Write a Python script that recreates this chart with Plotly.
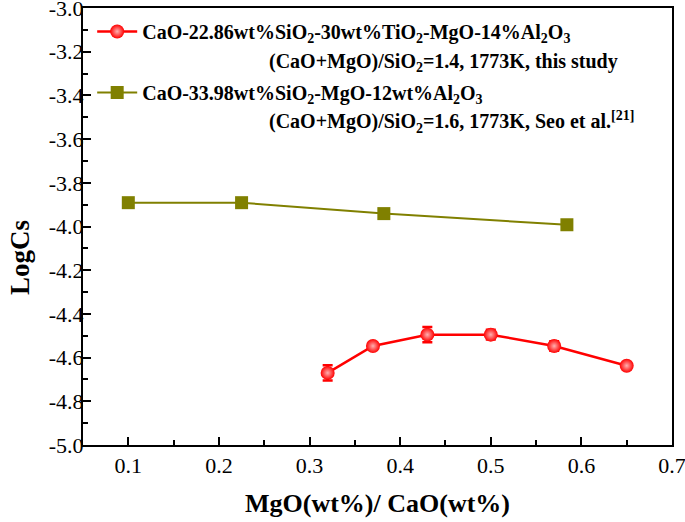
import plotly.graph_objects as go

red_x = [0.32, 0.37, 0.43, 0.50, 0.57, 0.65]
red_y = [-4.670, -4.547, -4.495, -4.495, -4.547, -4.637]
red_err = [0.035, 0.0, 0.035, 0.022, 0.022, 0.0]

olive_x = [0.10, 0.225, 0.382, 0.584]
olive_y = [-3.891, -3.891, -3.941, -3.992]

x_ticks = [0.1, 0.2, 0.3, 0.4, 0.5, 0.6, 0.7]
x_labels = ["0.1", "0.2", "0.3", "0.4", "0.5", "0.6", "0.7"]
y_ticks = [-5.0, -4.8, -4.6, -4.4, -4.2, -4.0, -3.8, -3.6, -3.4, -3.2, -3.0]
y_labels = ["-5.0", "-4.8", "-4.6", "-4.4", "-4.2", "-4.0", "-3.8", "-3.6", "-3.4", "-3.2", "-3.0"]

name_red = "CaO-22.86wt%SiO<sub>2</sub>-30wt%TiO<sub>2</sub>-MgO-14%Al<sub>2</sub>O<sub>3</sub>"
note_red = "(CaO+MgO)/SiO<sub>2</sub>=1.4, 1773K, this study"
name_olive = "CaO-33.98wt%SiO<sub>2</sub>-MgO-12wt%Al<sub>2</sub>O<sub>3</sub>"
note_olive = "(CaO+MgO)/SiO<sub>2</sub>=1.6, 1773K, Seo et al.<sup>[21]</sup>"

FONT = "Liberation Serif"

fig = go.Figure()
fig.add_trace(go.Scatter(
    x=red_x, y=red_y, mode="lines+markers", name=name_red, legendgroup="a",
    line=dict(color="#ff0000", width=2.5),
    marker=dict(color="#ff0000", size=14, symbol="circle",
                gradient=dict(type="radial", color="#ffb0b0"),
                line=dict(width=0)),
    error_y=dict(type="data", array=red_err, color="#ff0000", thickness=2.5, width=5, visible=True),
))
fig.add_trace(go.Scatter(
    x=olive_x, y=olive_y, mode="lines+markers", name=name_olive, legendgroup="b",
    line=dict(color="#808000", width=2),
    marker=dict(color="#808000", size=13, symbol="square", line=dict(width=0)),
))

axis_common = dict(
    showline=True, linecolor="black", linewidth=2, mirror=True,
    ticks="inside", ticklen=8, tickwidth=2, tickcolor="black",
    showgrid=False, zeroline=False, automargin=False,
    ticklabeloverflow="allow",
    tickfont=dict(family=FONT, size=22, color="black"),
)

fig.update_xaxes(range=[0.05, 0.7], tickvals=x_ticks, ticktext=x_labels,
                 minor=dict(dtick=0.05, ticks="inside", ticklen=5, tickwidth=2, tickcolor="black", tick0=0.05),
                 title=dict(text="<b>MgO(wt%)/ CaO(wt%)</b>", standoff=16,
                            font=dict(family=FONT, size=26, color="black")),
                 **axis_common)
fig.update_yaxes(range=[-5.0, -3.0], tickvals=y_ticks, ticktext=y_labels, ticklabelstandoff=-7,
                 minor=dict(dtick=0.1, ticks="inside", ticklen=5, tickwidth=2, tickcolor="black"),
                 **axis_common)

note_style = dict(xref="paper", yref="paper", xanchor="left", yanchor="middle", showarrow=False,
                  font=dict(family=FONT, size=20, color="black", weight="bold"))
fig.add_annotation(text=note_red, x=0.3124, y=0.8764, **note_style)
fig.add_annotation(text=note_olive, x=0.3124, y=0.7391, **note_style)
fig.add_annotation(text="<b>LogCs</b>", xref="paper", yref="paper", x=-0.107, y=0.43,
                   xanchor="center", yanchor="middle", textangle=-90, showarrow=False,
                   font=dict(family=FONT, size=27, color="black"))

fig.update_layout(
    width=685, height=522,
    margin=dict(l=83, r=13, t=8, b=77, autoexpand=False),
    plot_bgcolor="white", paper_bgcolor="white",
    showlegend=True,
    legend=dict(x=0.0156, y=0.991, xanchor="left", yanchor="top",
                bgcolor="rgba(0,0,0,0)", valign="middle", tracegroupgap=32,
                itemwidth=40,
                font=dict(family=FONT, size=20, color="black", weight="bold")),
)

fig.write_html("out.html", config={"displayModeBar": False},
               post_script="document.body.style.margin='0';")
